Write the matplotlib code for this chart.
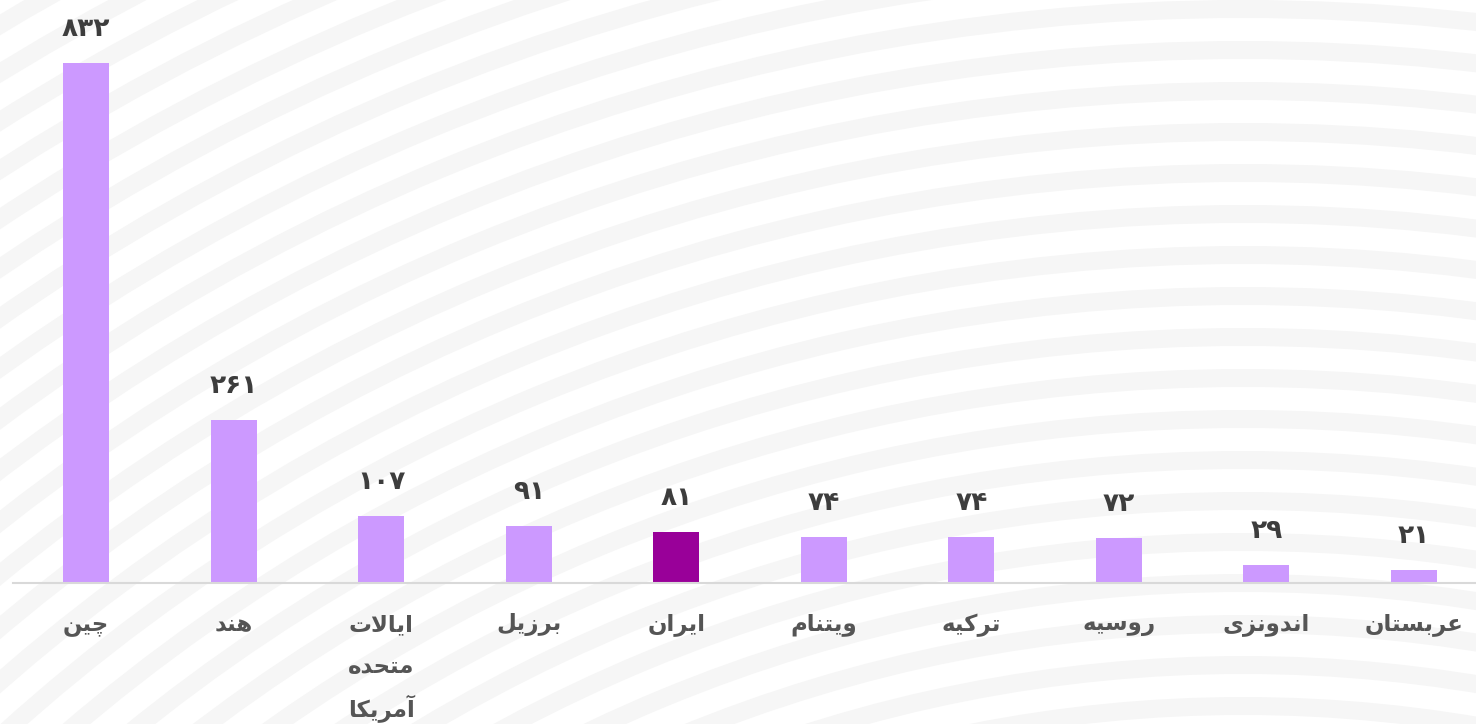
import matplotlib
matplotlib.use("Agg")
import matplotlib.pyplot as plt
from matplotlib.patches import Wedge

# ---------------- data ----------------
countries = ["چین", "هند", "ایالات\nمتحده\nآمریکا", "برزیل", "ایران",
             "ویتنام", "ترکیه", "روسیه", "اندونزی", "عربستان"]
values = [832, 261, 107, 91, 81, 74, 74, 72, 29, 21]
value_labels = ["۸۳۲", "۲۶۱", "۱۰۷", "۹۱", "۸۱", "۷۴", "۷۴", "۷۲", "۲۹", "۲۱"]
highlight = "ایران"

BAR_COLOR = "#cc99ff"
HIGHLIGHT_COLOR = "#990099"

# ---------------- simple Persian shaping (matplotlib has no shaping/bidi) ----------------
FORMS = {
    'ا': ('\uFE8D', '\uFE8E', None, None),
    'آ': ('\uFE81', '\uFE82', None, None),
    'ب': ('\uFE8F', '\uFE90', '\uFE91', '\uFE92'),
    'ت': ('\uFE95', '\uFE96', '\uFE97', '\uFE98'),
    'ح': ('\uFEA1', '\uFEA2', '\uFEA3', '\uFEA4'),
    'د': ('\uFEA9', '\uFEAA', None, None),
    'ر': ('\uFEAD', '\uFEAE', None, None),
    'ز': ('\uFEAF', '\uFEB0', None, None),
    'س': ('\uFEB1', '\uFEB2', '\uFEB3', '\uFEB4'),
    'ع': ('\uFEC9', '\uFECA', '\uFECB', '\uFECC'),
    'ل': ('\uFEDD', '\uFEDE', '\uFEDF', '\uFEE0'),
    'م': ('\uFEE1', '\uFEE2', '\uFEE3', '\uFEE4'),
    'ن': ('\uFEE5', '\uFEE6', '\uFEE7', '\uFEE8'),
    'ه': ('\uFEE9', '\uFEEA', '\uFEEB', '\uFEEC'),
    'و': ('\uFEED', '\uFEEE', None, None),
    'چ': ('\uFB7A', '\uFB7B', '\uFB7C', '\uFB7D'),
    'ک': ('\uFB8E', '\uFB8F', '\uFB90', '\uFB91'),
    'ی': ('\uFBFC', '\uFBFD', '\uFBFE', '\uFBFF'),
}


def _joins_left(c):
    f = FORMS.get(c)
    return f is not None and f[2] is not None


def shape_line(text):
    chars = list(text)
    n = len(chars)
    out = []
    i = 0
    while i < n:
        c = chars[i]
        if c not in FORMS:
            out.append(c)
            i += 1
            continue
        prev_conn = i > 0 and _joins_left(chars[i - 1])
        if c == 'ل' and i + 1 < n and chars[i + 1] in ('ا', 'آ'):
            if chars[i + 1] == 'ا':
                out.append('\uFEFC' if prev_conn else '\uFEFB')
            else:
                out.append('\uFEF6' if prev_conn else '\uFEF5')
            i += 2
            continue
        next_conn = (i + 1 < n and chars[i + 1] in FORMS and _joins_left(c))
        iso, fin, ini, med = FORMS[c]
        if prev_conn and next_conn:
            out.append(med)
        elif prev_conn:
            out.append(fin)
        elif next_conn:
            out.append(ini)
        else:
            out.append(iso)
        i += 1
    return ''.join(reversed(out))


plt.rcParams['font.family'] = ['DejaVu Sans']

W, H = 1476, 724
fig = plt.figure(figsize=(W / 100, H / 100), dpi=100)
fig.patch.set_facecolor("white")

# ---------------- decorative background arcs ----------------
bg = fig.add_axes([0, 0, 1, 1], zorder=0)
bg.set_xlim(0, W)
bg.set_ylim(H, 0)
bg.axis("off")
cx, cy = 1243, 2100
period, stripe = 41, 18
for k in range(-12, 24):
    r = cy - period * k
    if r <= stripe:
        continue
    bg.add_patch(Wedge((cx, cy), r, 0, 360, width=stripe,
                       facecolor="#f6f6f6", edgecolor="none"))

# ---------------- bar chart ----------------
base_px = 583
px_per_unit = 0.625
left_px, right_px = 12.5, 1487.5
ax_h_px = base_px
ax = fig.add_axes([left_px / W, (H - base_px) / H, (right_px - left_px) / W, ax_h_px / H], zorder=1)
ax.patch.set_alpha(0)
x = list(range(len(countries)))
colors = [HIGHLIGHT_COLOR if c == highlight else BAR_COLOR for c in countries]
ax.bar(x, values, width=0.31, color=colors, zorder=2)
ax.set_xlim(-0.5, len(countries) - 0.5)
ax.set_ylim(0, ax_h_px / px_per_unit)

for spine in ("top", "right", "left"):
    ax.spines[spine].set_visible(False)
ax.spines["bottom"].set_color("#d9d9d9")
ax.spines["bottom"].set_linewidth(1.5)
ax.set_yticks([])
ax.set_xticks(x)
ax.set_xticklabels([""] * len(x))
ax.tick_params(axis="x", length=0)

# category labels, one text per line (42 px line pitch)
line_pitch_pt = 42 * 0.72
first_line_pt = -39 * 0.72
for xi, c in zip(x, countries):
    for j, line in enumerate(c.split("\n")):
        ax.annotate(shape_line(line), (xi, 0), xycoords=("data", "axes fraction"),
                    xytext=(0, first_line_pt - j * line_pitch_pt), textcoords="offset points",
                    ha="center", va="center_baseline", fontsize=16.5, fontweight="bold",
                    color="#555555", annotation_clip=False)

for xi, v, lab in zip(x, values, value_labels):
    ax.annotate(lab, (xi, v), xytext=(0, 19.5), textcoords="offset points",
                ha="center", va="baseline", fontsize=19, fontweight="bold",
                color="#3d3d3d")

fig.savefig("out.png", dpi=100, facecolor="white")
